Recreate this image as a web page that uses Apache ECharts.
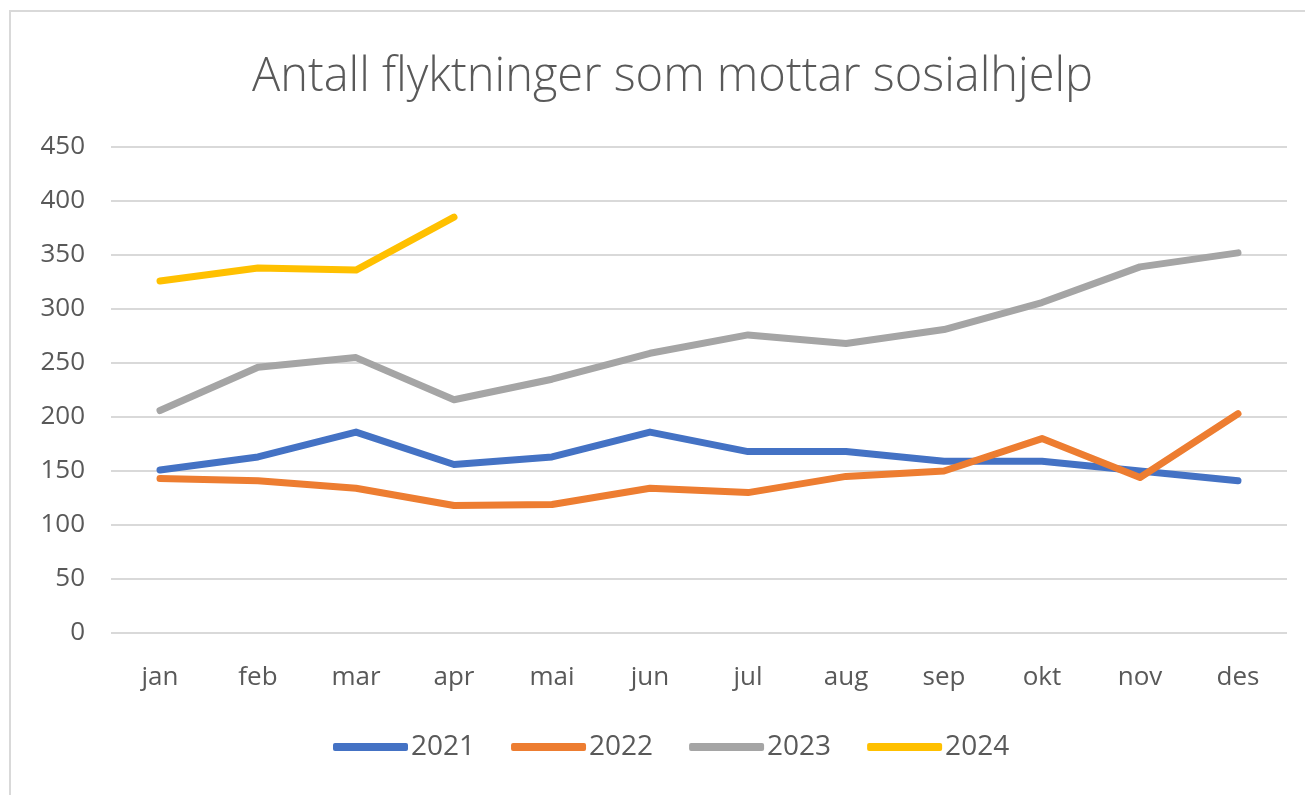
<!DOCTYPE html>
<html>
<head>
<meta charset="utf-8">
<script src="https://cdn.jsdelivr.net/npm/echarts@6/dist/echarts.min.js"></script>
<style>
    html, body { margin: 0; padding: 0; background: #fff; }
    #chart { width: 1305px; height: 795px; }
    #frame { position: absolute; left: 9px; top: 10px; right: 0; bottom: 0;
             border-top: 2px solid #d9d9d9; border-left: 2px solid #d9d9d9; pointer-events: none; }
</style>
</head>
<body>
<div id="chart"></div>
<div id="frame"></div>
<script>
var months = ['jan', 'feb', 'mar', 'apr', 'mai', 'jun', 'jul', 'aug', 'sep', 'okt', 'nov', 'des']
var years = ['2021', '2022', '2023', '2024']
// verdier lest av bildet
var v2021 = [151, 163, 186, 156, 163, 186, 168, 168, 159, 159, 150, 141]
var v2022 = [143, 141, 134, 118, 119, 134, 130, 145, 150, 180, 144, 203]
var v2023 = [206, 246, 255, 216, 235, 259, 276, 268, 281, 306, 339, 352]
var v2024 = [326, 338, 336, 385]
var colors = ['#4472c4', '#ed7d31', '#a5a5a5', '#ffc000']

var font = '"Open Sans", sans-serif'
var chart = echarts.init(document.getElementById('chart'))

var series = [v2021, v2022, v2023, v2024].map(function(values, i) {
    return {
        name: years[i],
        type: 'line',
        data: values,
        showSymbol: false,
        symbol: 'none',
        animation: false,
        lineStyle: { width: 7, color: colors[i], cap: 'round', join: 'round' },
        itemStyle: { color: colors[i] }
    }
})

chart.setOption({
    title: {
        text: 'Antall flyktninger som mottar sosialhjelp',
        left: 247,
        top: 49,
        textStyle: { fontFamily: font, fontSize: 47, fontWeight: 300, color: '#595959' }
    },
    legend: {
        data: years,
        top: 728,
        left: 328,
        icon: 'roundRect',
        itemWidth: 75,
        itemHeight: 8,
        itemGap: 36,
        textStyle: { fontFamily: font, fontSize: 28, color: '#595959', padding: [0, 0, 0, -2] }
    },
    grid: { left: 111, right: 18, top: 147, bottom: 162, containLabel: false },
    xAxis: {
        type: 'category',
        data: months,
        boundaryGap: true,
        axisLine: { show: false },
        axisTick: { show: false },
        axisLabel: { fontFamily: font, fontSize: 26, color: '#595959', margin: 32 }
    },
    yAxis: {
        type: 'value',
        min: 0,
        max: 450,
        interval: 50,
        axisLine: { show: false },
        axisTick: { show: false },
        axisLabel: { fontFamily: font, fontSize: 26, color: '#595959', margin: 26 },
        splitLine: { lineStyle: { color: '#d9d9d9', width: 2 } }
    },
    series: series
})
</script>
</body>
</html>
